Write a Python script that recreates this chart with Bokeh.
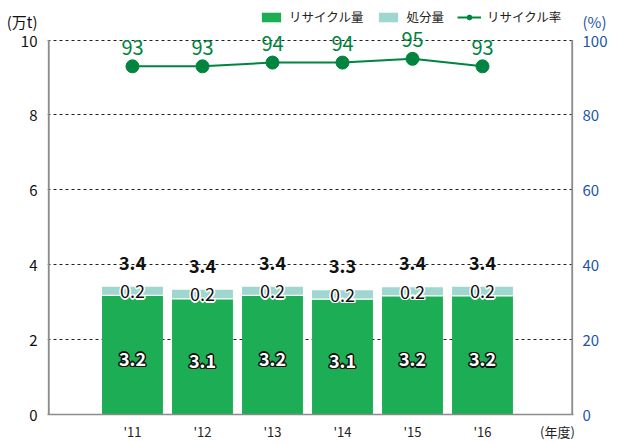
from bokeh.plotting import figure
from bokeh.models import (ColumnDataSource, Range1d, LinearAxis, FixedTicker,
                          Legend, LegendItem)
from bokeh.core.properties import value
from bokeh.embed import file_html
from bokeh.resources import INLINE

# ---- data ----
years = ["'11", "'12", "'13", "'14", "'15", "'16"]
recycle = [3.18, 3.09, 3.18, 3.08, 3.17, 3.17]
disposal = [0.23, 0.24, 0.23, 0.24, 0.23, 0.24]
recycle_labels = ["3.2", "3.1", "3.2", "3.1", "3.2", "3.2"]
disposal_labels = ["0.2", "0.2", "0.2", "0.2", "0.2", "0.2"]
total_labels = ["3.4", "3.4", "3.4", "3.3", "3.4", "3.4"]
rate = [93, 93, 94, 94, 95, 93]
rate_labels = ["93", "93", "94", "94", "95", "93"]
left_ticks = [0, 2, 4, 6, 8, 10]
right_ticks = [0, 20, 40, 60, 80, 100]
left_unit, right_unit, x_unit = "(万t)", "(%)", "(年度)"

GREEN = "#1cad55"
TEAL = "#9fd6d0"
LINE = "#00843f"
BLUE = "#1b55a8"
AXIS = "#8c8c8c"
FONT = "Noto Sans CJK JP"

W, H = 619, 443
FL, FR, FB = 47, 46, 25          # borders around the frame (top = 0)
XS, XE = -1.214, 6.3
YMAX = 10 * (H - FB) / 378.0     # 10 units span 378 px in the reference
PMAX = YMAX * 10
PX = (XE - XS) / (W - FL - FR)   # one pixel in x data units

xs = list(range(len(years)))
totals = [r + d for r, d in zip(recycle, disposal)]
src = ColumnDataSource(dict(
    x=xs, recycle=recycle, disposal=disposal, total=totals,
    rmid=[r / 2 for r in recycle],
    dmid=[r + d / 2 for r, d in zip(recycle, disposal)],
    rl=recycle_labels, dl=disposal_labels, tl=total_labels,
    rate=rate, ratel=rate_labels,
))

p = figure(width=W, height=H, output_backend="svg", toolbar_location=None,
           x_range=Range1d(XS, XE), y_range=Range1d(0, YMAX),
           min_border_left=FL, min_border_right=FR, min_border_top=0,
           min_border_bottom=FB)
p.outline_line_color = None
p.background_fill_color = "white"
p.border_fill_color = "white"
p.extra_y_ranges = {"pct": Range1d(0, PMAX)}

# unit tick positions (just above the top tick)
l_unit_y = 10.5
r_unit_y = 105.0
x_unit_x = 6.07

# axes
p.xaxis.ticker = FixedTicker(ticks=xs + [x_unit_x])
ov = {i: y for i, y in enumerate(years)}
ov[x_unit_x] = x_unit
p.xaxis.major_label_overrides = ov
p.xaxis.major_label_text_font = FONT
p.xaxis.major_label_text_font_size = "13px"
p.xaxis.major_label_text_color = "#222222"
p.xaxis.major_label_standoff = 7
p.xaxis.axis_line_color = AXIS
p.xaxis.axis_line_width = 1.5
p.xaxis.major_tick_line_color = None
p.xaxis.minor_tick_line_color = None
p.xaxis.major_tick_out = 0
p.xaxis.major_tick_in = 0

p.yaxis.ticker = FixedTicker(ticks=left_ticks + [l_unit_y])
p.yaxis.major_label_overrides = {l_unit_y: left_unit}
p.yaxis.major_label_text_font = FONT
p.yaxis.major_label_text_font_size = "15px"
p.yaxis.major_label_text_color = "#111111"
p.yaxis.major_label_standoff = 10
p.yaxis.axis_line_color = None
p.yaxis.major_tick_line_color = None
p.yaxis.minor_tick_line_color = None
p.yaxis.major_tick_out = 0
p.yaxis.major_tick_in = 0

raxis = LinearAxis(y_range_name="pct",
                   ticker=FixedTicker(ticks=right_ticks + [r_unit_y]))
raxis.major_label_overrides = {r_unit_y: right_unit}
raxis.major_label_text_font = FONT
raxis.major_label_text_font_size = "15px"
raxis.major_label_text_color = BLUE
raxis.major_label_standoff = 9
raxis.axis_line_color = None
raxis.major_tick_line_color = None
raxis.minor_tick_line_color = None
raxis.major_tick_out = 0
raxis.major_tick_in = 0
p.add_layout(raxis, "right")

# vertical axis lines spanning only 0..10 (as in the reference)
p.segment(x0=[XS + 1.2 * PX, XE - 1.2 * PX], x1=[XS + 1.2 * PX, XE - 1.2 * PX],
          y0=[0, 0], y1=[left_ticks[-1]] * 2, line_color=AXIS, line_width=2)

p.xgrid.grid_line_color = None
p.ygrid.ticker = FixedTicker(ticks=left_ticks[1:])
p.ygrid.grid_line_color = "#222222"
p.ygrid.grid_line_dash = "3 3"
p.ygrid.grid_line_width = 1

# bars
rb = p.vbar(x="x", top="recycle", bottom=0, width=0.87, source=src,
            fill_color=GREEN, line_color=None)
db = p.vbar(x="x", top="total", bottom="recycle", width=0.87, source=src,
            fill_color=TEAL, line_color=None)
p.segment(x0=[x - 0.435 for x in xs], x1=[x + 0.435 for x in xs],
          y0=recycle, y1=recycle, line_color="white", line_width=1.2)

# line
ln = p.line(x="x", y="rate", source=src, y_range_name="pct",
            line_color=LINE, line_width=2)
cr = p.scatter(x="x", y="rate", source=src, y_range_name="pct", size=13,
               fill_color=LINE, line_color=LINE)


def outlined(xf, yf, tf, fill, stroke, size, bold, yoff=0):
    style = "bold" if bold else "normal"
    for dx, dy in [(-1.5, 0), (1.5, 0), (0, -1.5), (0, 1.5),
                   (-1.1, -1.1), (1.1, 1.1), (-1.1, 1.1), (1.1, -1.1)]:
        p.text(x=xf, y=yf, text=tf, source=src, text_color=stroke,
               text_font=value(FONT), text_font_size=size,
               text_font_style=style, text_align="center",
               text_baseline="middle", x_offset=dx, y_offset=yoff + dy)
    p.text(x=xf, y=yf, text=tf, source=src, text_color=fill,
           text_font=value(FONT), text_font_size=size,
           text_font_style=style, text_align="center",
           text_baseline="middle", y_offset=yoff)


outlined("x", "rmid", "rl", "white", "#111111", "18px", True, yoff=4)
outlined("x", "dmid", "dl", "#111111", "white", "18px", False, yoff=0)

p.text(x="x", y="total", text="tl", source=src, text_color="#111111",
       text_font=value(FONT), text_font_size="18px", text_font_style="bold",
       text_align="center", text_baseline="middle", y_offset=-24)
p.text(x="x", y="rate", text="ratel", source=src, y_range_name="pct",
       text_color=LINE, text_font=value(FONT), text_font_size="20px",
       text_align="center", text_baseline="middle", y_offset=-19)

legend = Legend(items=[
    LegendItem(label="リサイクル量", renderers=[rb]),
    LegendItem(label="処分量", renderers=[db]),
    LegendItem(label="リサイクル率", renderers=[ln, cr]),
], orientation="horizontal", location=(212, H - FB - 30),
    label_text_font=FONT, label_text_font_size="12.5px",
    label_text_color="#222222", glyph_width=24, glyph_height=12,
    spacing=13, label_standoff=6, padding=2, margin=0,
    border_line_color=None, background_fill_alpha=0)
p.add_layout(legend, "center")

open("out.html", "w").write(file_html(p, INLINE))
